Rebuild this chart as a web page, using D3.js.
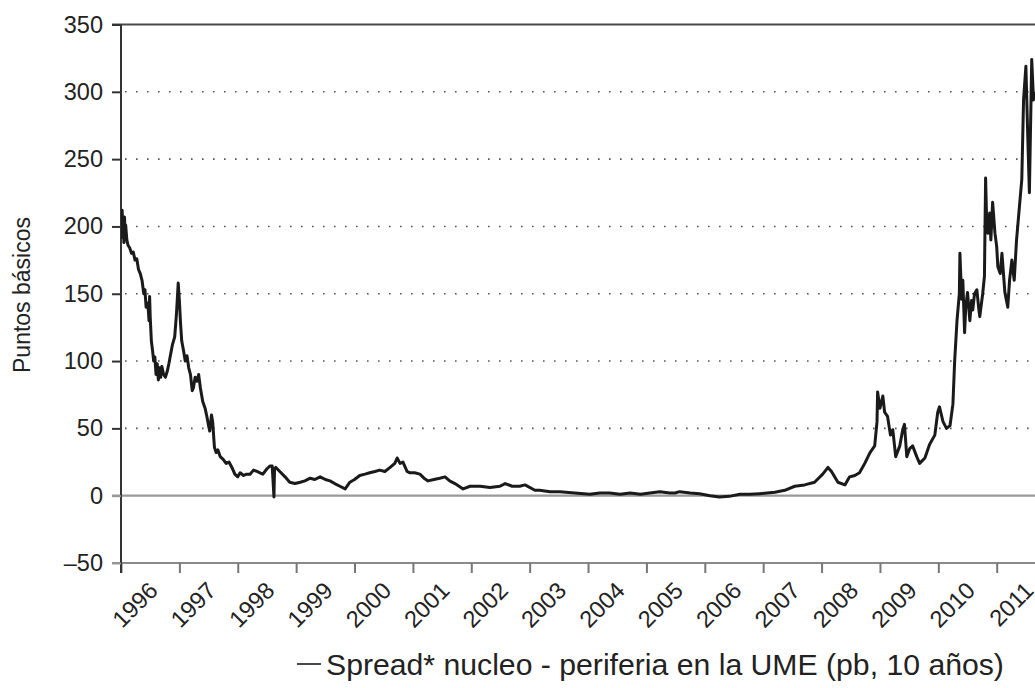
<!DOCTYPE html>
<html>
<head>
<meta charset="utf-8">
<script src="https://cdn.jsdelivr.net/npm/d3@7"></script>
<style>
  body { margin: 0; background: #fff; }
  svg { display: block; font-family: "Liberation Sans", Arial, sans-serif; }
</style>
</head>
<body>
<div id="grafico"></div>
<script>
// Datos (año decimal, puntos basicos)

const fechas = [
  1996.00, 1996.01, 1996.02, 1996.03, 1996.04, 1996.05, 1996.06, 1996.07, 1996.08, 1996.10,
  1996.12, 1996.15, 1996.18, 1996.21, 1996.24, 1996.27, 1996.30, 1996.33, 1996.36, 1996.39,
  1996.41, 1996.43, 1996.46, 1996.48, 1996.49, 1996.50, 1996.52, 1996.54, 1996.56, 1996.58,
  1996.60, 1996.62, 1996.64, 1996.66, 1996.68, 1996.70, 1996.73, 1996.76, 1996.79, 1996.82,
  1996.85, 1996.88, 1996.92, 1996.95, 1996.98, 1997.00, 1997.02, 1997.04, 1997.07, 1997.10,
  1997.13, 1997.16, 1997.19, 1997.22, 1997.24, 1997.27, 1997.30, 1997.33, 1997.36, 1997.40,
  1997.44, 1997.47, 1997.50, 1997.52, 1997.55, 1997.57, 1997.60, 1997.63, 1997.66, 1997.70,
  1997.75, 1997.80, 1997.85, 1997.90, 1997.95, 1998.00, 1998.04, 1998.10, 1998.15, 1998.21,
  1998.27, 1998.33, 1998.38, 1998.43, 1998.50, 1998.55, 1998.59, 1998.62, 1998.63, 1998.65,
  1998.72, 1998.81, 1998.89, 1998.98, 1999.07, 1999.15, 1999.24, 1999.32, 1999.41, 1999.50,
  1999.58, 1999.66, 1999.75, 1999.84, 1999.92, 2000.00, 2000.09, 2000.18, 2000.26, 2000.35,
  2000.43, 2000.52, 2000.61, 2000.69, 2000.73, 2000.78, 2000.83, 2000.90, 2000.95, 2001.03,
  2001.12, 2001.19, 2001.26, 2001.36, 2001.46, 2001.55, 2001.63, 2001.72, 2001.86, 2001.98,
  2002.15, 2002.32, 2002.49, 2002.58, 2002.70, 2002.83, 2002.92, 2003.09, 2003.17, 2003.35,
  2003.52, 2003.77, 2004.03, 2004.20, 2004.37, 2004.55, 2004.72, 2004.90, 2005.06, 2005.23,
  2005.40, 2005.49, 2005.57, 2005.75, 2005.91, 2006.09, 2006.25, 2006.42, 2006.60, 2006.77,
  2006.94, 2007.20, 2007.37, 2007.54, 2007.71, 2007.88, 2008.02, 2008.11, 2008.17, 2008.28,
  2008.40, 2008.48, 2008.57, 2008.65, 2008.74, 2008.83, 2008.91, 2008.95, 2008.96, 2009.00,
  2009.05, 2009.08, 2009.13, 2009.18, 2009.22, 2009.27, 2009.34, 2009.39, 2009.42, 2009.46,
  2009.51, 2009.56, 2009.63, 2009.68, 2009.77, 2009.85, 2009.94, 2009.99, 2010.02, 2010.08,
  2010.14, 2010.20, 2010.25, 2010.28, 2010.32, 2010.36, 2010.37, 2010.40, 2010.42, 2010.45,
  2010.47, 2010.50, 2010.54, 2010.57, 2010.59, 2010.62, 2010.66, 2010.69, 2010.71, 2010.76,
  2010.79, 2010.81, 2010.83, 2010.85, 2010.88, 2010.90, 2010.93, 2010.97, 2011.00, 2011.02,
  2011.06, 2011.09, 2011.14, 2011.19, 2011.22, 2011.26, 2011.30, 2011.34, 2011.39, 2011.43,
  2011.46, 2011.50, 2011.53, 2011.56, 2011.60, 2011.63, 2011.66
];

const spread = [
  205, 192, 212, 195, 200, 188, 207, 196, 201, 190,
  186, 184, 180, 181, 175, 176, 168, 165, 160, 150,
  153, 140, 143, 130, 148, 133, 115, 108, 100, 103,
  90, 98, 86, 95, 88, 96, 90, 88, 92, 98,
  105, 112, 118, 135, 158, 145, 128, 115, 108, 100,
  104, 95, 90, 78, 80, 88, 85, 90, 80, 70,
  65, 59, 52, 48, 60, 55, 36, 32, 34, 29,
  27, 24, 25, 21, 16, 14, 17, 15, 16, 16,
  19, 18, 17, 16, 20, 22, 22, -1, 20, 21,
  18, 14, 10, 9, 10, 11, 13, 12, 14, 12,
  11, 9, 7, 5, 10, 12, 15, 16, 17, 18,
  19, 18, 21, 24, 28, 24, 25, 18, 17, 17,
  16, 13, 11, 12, 13, 14, 11, 9, 5, 7,
  7, 6, 7, 9, 7, 7, 8, 4, 4, 3,
  3, 2, 1, 2, 2, 1, 2, 1, 2, 3,
  2, 2, 3, 2, 1.5, 0, -1, -0.5, 1, 1,
  1.5, 2.5, 4, 7, 8, 10, 16, 21, 18, 10,
  8, 14, 15, 17, 24, 32, 37, 55, 77, 65,
  74, 62, 59, 45, 49, 29, 37, 49, 53, 29,
  35, 37, 29, 24, 28, 38, 45, 62, 66, 55,
  50, 52, 68, 100, 130, 150, 180, 146, 160, 121,
  140, 151, 130, 145, 138, 150, 153, 140, 133, 150,
  163, 236, 200, 195, 210, 190, 218, 195, 185, 170,
  165, 180, 151, 140, 160, 175, 160, 190, 215, 235,
  294, 319, 270, 225, 324, 294, 300
];

const anios = d3.range(1996, 2012);
const ticksY = [-50, 0, 50, 100, 150, 200, 250, 300, 350];
const lineasGuia = [50, 100, 150, 200, 250, 300];

const WIDTH = 1035;
const HEIGHT = 688;
const PLOT = { left: 121, top: 24.5, bottom: 563, yearPx: 58.38 };

const x = d3.scaleLinear()
    .domain([1996, 2012])
    .range([PLOT.left, PLOT.left + 16 * PLOT.yearPx]);

const y = d3.scaleLinear()
    .domain([-50, 350])
    .range([PLOT.bottom, PLOT.top]);

const svg = d3.select("#grafico")
    .append("svg")
    .attr("width", WIDTH)
    .attr("height", HEIGHT);

svg.append("defs").append("clipPath")
    .attr("id", "recorte")
    .append("rect")
    .attr("x", PLOT.left)
    .attr("y", 0)
    .attr("width", WIDTH - PLOT.left)
    .attr("height", PLOT.bottom);

// lineas punteadas
svg.selectAll(".guia")
    .data(lineasGuia)
    .join("line")
    .attr("class", "guia")
    .attr("x1", PLOT.left + 4)
    .attr("x2", WIDTH)
    .attr("y1", d => y(d))
    .attr("y2", d => y(d))
    .attr("stroke", "#555")
    .attr("stroke-width", 1.6)
    .attr("stroke-dasharray", "1.6,9.4");

// linea del cero
svg.append("line")
    .attr("x1", PLOT.left - 9)
    .attr("x2", WIDTH)
    .attr("y1", y(0))
    .attr("y2", y(0))
    .attr("stroke", "#999")
    .attr("stroke-width", 2.2);

// borde superior
svg.append("line")
    .attr("x1", PLOT.left - 9)
    .attr("x2", WIDTH)
    .attr("y1", y(350))
    .attr("y2", y(350))
    .attr("stroke", "#4a4a4a")
    .attr("stroke-width", 1.8);

// eje X
const ejeX = d3.axisBottom(x)
    .tickValues(anios.concat([2012]))
    .tickSize(10)
    .tickSizeOuter(0)
    .tickFormat("");

const gX = svg.append("g")
    .attr("transform", `translate(0, ${PLOT.bottom})`)
    .call(ejeX);

gX.select(".domain")
    .attr("d", `M${PLOT.left - 9},0H${WIDTH}`)
    .attr("stroke", "#8a8a8a")
    .attr("stroke-width", 2);
gX.selectAll(".tick line")
    .attr("stroke", "#777")
    .attr("stroke-width", 2);

svg.selectAll(".anio")
    .data(anios)
    .join("text")
    .attr("class", "anio")
    .attr("transform", d => `translate(${x(d + 0.5) + 9}, ${PLOT.bottom + 29}) rotate(-45)`)
    .attr("text-anchor", "end")
    .attr("font-size", 23.5)
    .attr("fill", "#222")
    .text(d => d);

// eje Y
const ejeY = d3.axisLeft(y)
    .tickValues(ticksY)
    .tickSize(9)
    .tickSizeOuter(0)
    .tickPadding(9)
    .tickFormat(d => d < 0 ? "\u2013" + Math.abs(d) : d);

const gY = svg.append("g")
    .attr("transform", `translate(${PLOT.left}, 0)`)
    .call(ejeY);

gY.select(".domain")
    .attr("d", `M0,${PLOT.top}V${PLOT.bottom + 10}`)
    .attr("stroke", "#333")
    .attr("stroke-width", 2);
gY.selectAll(".tick line")
    .attr("stroke", d => (d === 0 || d === -50) ? "#999" : "#333")
    .attr("stroke-width", 2);
gY.selectAll(".tick text")
    .attr("font-size", 23.5)
    .attr("font-family", "Liberation Sans, Arial, sans-serif")
    .attr("fill", "#222");

svg.append("text")
    .attr("transform", `translate(30, 295) rotate(-90)`)
    .attr("text-anchor", "middle")
    .attr("font-size", 23)
    .attr("fill", "#222")
    .text("Puntos básicos");

// serie
const serie = fechas.map((f, i) => [f, spread[i]]);

const linea = d3.line()
    .x(d => x(d[0]))
    .y(d => y(d[1]));

svg.append("path")
    .datum(serie)
    .attr("clip-path", "url(#recorte)")
    .attr("d", linea)
    .attr("fill", "none")
    .attr("stroke", "#1a1a1a")
    .attr("stroke-width", 3)
    .attr("stroke-linejoin", "round");

// leyenda
svg.append("line")
    .attr("x1", 297)
    .attr("x2", 321)
    .attr("y1", 664)
    .attr("y2", 664)
    .attr("stroke", "#1a1a1a")
    .attr("stroke-width", 1.6);

svg.append("text")
    .attr("x", 326)
    .attr("y", 675)
    .attr("font-size", 30.2)
    .attr("fill", "#222")
    .text("Spread* nucleo - periferia en la UME (pb, 10 años)");
</script>
</body>
</html>
